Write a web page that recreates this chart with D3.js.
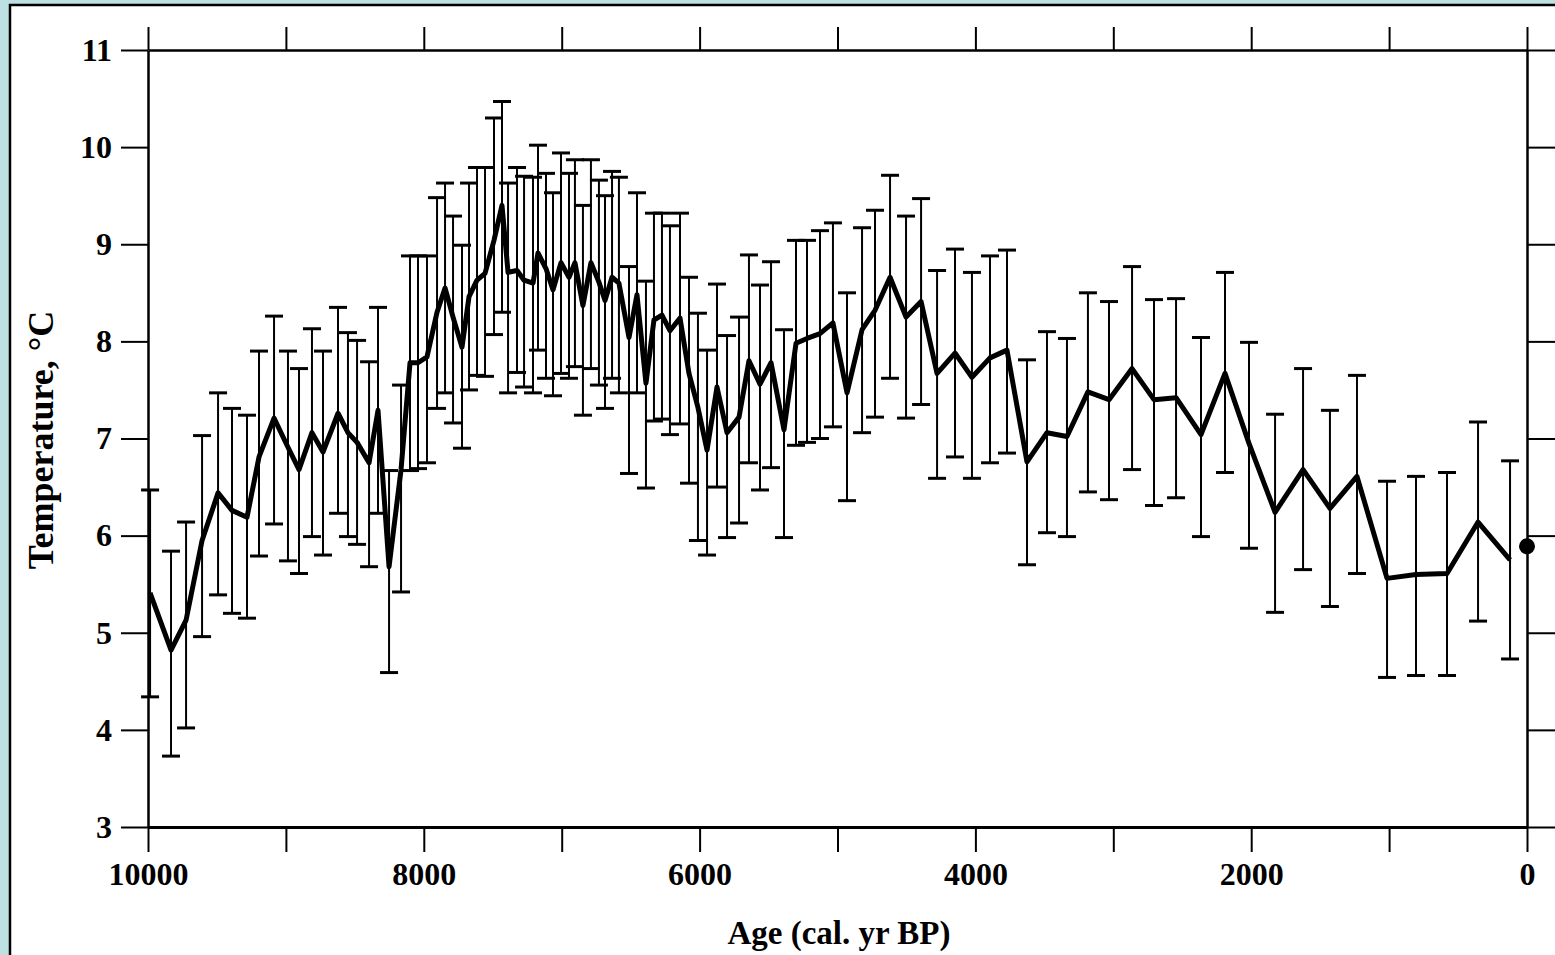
<!DOCTYPE html>
<html>
<head>
<meta charset="utf-8">
<script src="https://cdn.jsdelivr.net/npm/d3@7"></script>
<style>
  body { margin: 0; background: #bde0e3; }
  svg { display: block; }
  text { font-family: "Liberation Serif", "Times New Roman", serif; font-weight: bold; }
</style>
</head>
<body>
<svg id="chart" width="1555" height="955"></svg>
<script>
// reconstructed temperature, cal. yr BP
var ages = [9985, 9833, 9724, 9608, 9492, 9391, 9282, 9195, 9086, 8985,
            8905, 8811, 8731, 8622, 8550, 8484, 8397, 8332, 8252, 8165,
            8100, 8042, 7977, 7904, 7846, 7788, 7723, 7672, 7614, 7556,
            7491, 7433, 7389, 7324, 7273, 7208, 7172, 7114, 7063, 7005,
            6947, 6904, 6846, 6788, 6730, 6686, 6635, 6585, 6512, 6454,
            6389, 6331, 6273, 6215, 6142, 6077, 6012, 5946, 5874, 5801,
            5714, 5642, 5562, 5482, 5388, 5301, 5221, 5127, 5033, 4931,
            4822, 4728, 4619, 4503, 4394, 4278, 4148, 4025, 3894, 3771,
            3626, 3481, 3336, 3184, 3031, 2864, 2705, 2545, 2364, 2190,
            2016, 1827, 1624, 1429, 1233, 1015, 805, 580, 355, 123];
var temps = [5.41, 4.82, 5.13, 5.95, 6.44, 6.26, 6.19, 6.81, 7.21, 6.91,
             6.68, 7.06, 6.86, 7.26, 7.06, 6.96, 6.75, 7.29, 5.68, 6.68,
             7.78, 7.78, 7.84, 8.30, 8.55, 8.25, 7.94, 8.46, 8.63, 8.70,
             9.04, 9.40, 8.71, 8.73, 8.63, 8.60, 8.91, 8.75, 8.53, 8.81,
             8.66, 8.81, 8.37, 8.81, 8.61, 8.42, 8.66, 8.60, 8.04, 8.48,
             7.57, 8.22, 8.27, 8.11, 8.24, 7.67, 7.32, 6.88, 7.53, 7.06,
             7.22, 7.80, 7.56, 7.78, 7.09, 7.98, 8.03, 8.08, 8.19, 7.47,
             8.12, 8.32, 8.66, 8.25, 8.41, 7.67, 7.88, 7.63, 7.83, 7.91,
             6.76, 7.06, 7.02, 7.48, 7.40, 7.72, 7.40, 7.42, 7.04, 7.67,
             6.95, 6.24, 6.68, 6.28, 6.61, 5.56, 5.60, 5.61, 6.14, 5.75];
var upper = [6.47, 5.84, 6.14, 7.03, 7.47, 7.31, 7.24, 7.90, 8.26, 7.90,
             7.72, 8.13, 7.90, 8.35, 8.09, 8.01, 7.79, 8.35, 6.67, 7.55,
             8.88, 8.88, 8.88, 9.48, 9.63, 9.29, 8.99, 9.63, 9.79, 9.79,
             10.30, 10.47, 9.63, 9.79, 9.70, 9.69, 10.02, 9.73, 9.53, 9.94,
             9.73, 9.87, 9.40, 9.87, 9.66, 9.50, 9.75, 9.69, 8.77, 9.53,
             8.62, 9.32, 9.32, 9.19, 9.32, 8.66, 8.29, 7.91, 8.59, 8.06,
             8.25, 8.89, 8.58, 8.82, 8.12, 9.04, 9.04, 9.14, 9.22, 8.50,
             9.17, 9.35, 9.71, 9.29, 9.47, 8.73, 8.95, 8.71, 8.88, 8.94,
             7.81, 8.10, 8.03, 8.50, 8.41, 8.77, 8.43, 8.44, 8.04, 8.71,
             7.99, 7.25, 7.72, 7.29, 7.65, 6.56, 6.61, 6.65, 7.17, 6.77];
var lower = [4.34, 3.73, 4.02, 4.96, 5.39, 5.20, 5.15, 5.79, 6.12, 5.74,
             5.61, 5.99, 5.80, 6.23, 5.99, 5.91, 5.68, 6.23, 4.59, 5.42,
             6.67, 6.69, 6.75, 7.31, 7.47, 7.16, 6.90, 7.50, 7.65, 7.64,
             8.07, 8.30, 7.47, 7.68, 7.53, 7.47, 7.91, 7.62, 7.44, 7.67,
             7.62, 7.74, 7.24, 7.72, 7.55, 7.31, 7.62, 7.47, 6.64, 7.47,
             6.49, 7.18, 7.20, 7.04, 7.15, 6.54, 5.95, 5.80, 6.50, 5.98,
             6.13, 6.75, 6.47, 6.70, 5.98, 6.93, 6.96, 7.00, 7.12, 6.36,
             7.06, 7.22, 7.62, 7.21, 7.35, 6.59, 6.81, 6.59, 6.75, 6.85,
             5.70, 6.03, 5.99, 6.45, 6.37, 6.68, 6.31, 6.39, 5.99, 6.65,
             5.87, 5.21, 5.65, 5.27, 5.61, 4.54, 4.56, 4.56, 5.12, 4.73];
var modernAge = 0;
var modernTemp = 5.89;

var xTicks = d3.range(0, 10001, 1000);
var xLabels = [10000, 8000, 6000, 4000, 2000, 0];
var yTicks = [3, 4, 5, 6, 7, 8, 9, 10, 11];

var svg = d3.select("#chart");

// white panel
svg.append("rect")
    .attr("x", 10).attr("y", 5)
    .attr("width", 1560).attr("height", 970)
    .attr("fill", "#fff")
    .attr("stroke", "#000")
    .attr("stroke-width", 2.5);

var x = d3.scaleLinear().domain([10000, 0]).range([148, 1527]);
var y = d3.scaleLinear().domain([3, 11]).range([827, 50]);

function styleAxis(g, w) {
    g.selectAll(".domain").attr("stroke", "#000").attr("stroke-width", w);
    g.selectAll(".tick line").attr("stroke", "#000").attr("stroke-width", 2);
}

svg.append("g").attr("transform", "translate(0,827)")
    .call(d3.axisBottom(x).tickValues(xTicks).tickSize(25).tickSizeOuter(0)
        .tickFormat(function(d){ return xLabels.indexOf(d) >= 0 ? d : ""; }).tickPadding(10))
    .call(styleAxis, 3)
    .selectAll("text").attr("font-size", 32).attr("fill", "#000")
    .attr("font-family", "Liberation Serif").attr("font-weight", "bold");

svg.append("g").attr("transform", "translate(0,50)")
    .call(d3.axisTop(x).tickValues(xTicks).tickSize(23).tickSizeOuter(0).tickFormat(""))
    .call(styleAxis, 2.5);

svg.append("g").attr("transform", "translate(148,0)")
    .call(d3.axisLeft(y).tickValues(yTicks).tickSize(27).tickSizeOuter(0).tickPadding(9))
    .call(styleAxis, 2.5)
    .selectAll("text").attr("font-size", 32).attr("fill", "#000")
    .attr("font-family", "Liberation Serif").attr("font-weight", "bold");

svg.append("g").attr("transform", "translate(1527,0)")
    .call(d3.axisRight(y).tickValues(yTicks).tickSize(28).tickSizeOuter(0).tickFormat(""))
    .call(styleAxis, 2.5);

// error bars
var bars = svg.append("g");
for (var i = 0; i < ages.length; i++) {
    var bx = x(ages[i]);
    bars.append("line")
        .attr("x1", bx).attr("x2", bx)
        .attr("y1", y(upper[i])).attr("y2", y(lower[i]))
        .attr("stroke", "#000").attr("stroke-width", 2);
    [upper[i], lower[i]].forEach(function(v){
        bars.append("line")
            .attr("x1", bx - 9).attr("x2", bx + 9)
            .attr("y1", y(v)).attr("y2", y(v))
            .attr("stroke", "#000").attr("stroke-width", 3);
    });
}

var line = d3.line()
    .x(function(d, i){ return x(ages[i]); })
    .y(function(d){ return y(d); });

svg.append("path")
    .datum(temps)
    .attr("d", line)
    .attr("fill", "none")
    .attr("stroke", "#000")
    .attr("stroke-width", 5)
    .attr("stroke-linejoin", "round");

svg.append("circle")
    .attr("cx", x(modernAge)).attr("cy", y(modernTemp))
    .attr("r", 8).attr("fill", "#000");

// axis titles
svg.append("text")
    .attr("x", 839).attr("y", 944)
    .attr("text-anchor", "middle")
    .attr("font-size", 33)
    .text("Age (cal. yr BP)");

svg.append("text")
    .attr("transform", "translate(53,440) rotate(-90)")
    .attr("text-anchor", "middle")
    .attr("font-size", 36)
    .text("Temperature, °C");
</script>
</body>
</html>
